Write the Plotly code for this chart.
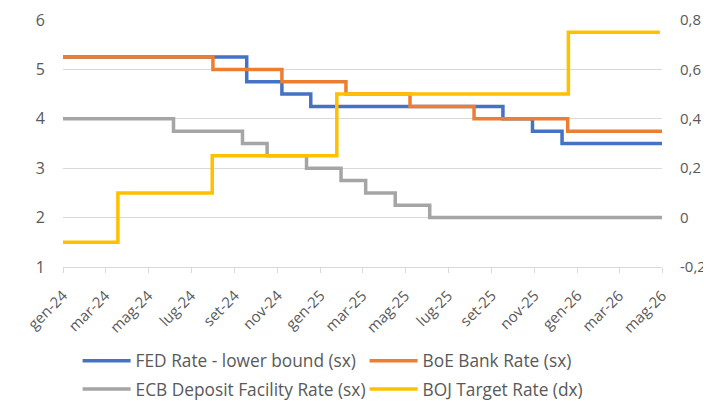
import plotly.graph_objects as go

# ---- data ----
fed_dates = ["2024-01-01", "2024-09-18", "2024-11-07", "2024-12-18", "2025-09-17", "2025-10-29", "2025-12-10", "2026-05-03"]
fed_values = [5.25, 4.75, 4.5, 4.25, 4.0, 3.75, 3.5, 3.5]

boe_dates = ["2024-01-01", "2024-08-01", "2024-11-07", "2025-02-06", "2025-05-08", "2025-08-07", "2025-12-18", "2026-05-02"]
boe_values = [5.25, 5.0, 4.75, 4.5, 4.25, 4.0, 3.75, 3.75]

ecb_dates = ["2024-01-01", "2024-06-06", "2024-09-12", "2024-10-17", "2024-12-12", "2025-01-30", "2025-03-06", "2025-04-17", "2025-06-05", "2026-05-02"]
ecb_values = [4.0, 3.75, 3.5, 3.25, 3.0, 2.75, 2.5, 2.25, 2.0, 2.0]

boj_dates = ["2024-01-01", "2024-03-19", "2024-07-31", "2025-01-24", "2025-12-19", "2026-04-28"]
boj_values = [-0.1, 0.1, 0.25, 0.5, 0.75, 0.75]

x_tick_dates = ["2024-01-01", "2024-03-01", "2024-05-01", "2024-07-01", "2024-09-01", "2024-11-01",
                "2025-01-01", "2025-03-01", "2025-05-01", "2025-07-01", "2025-09-01", "2025-11-01",
                "2026-01-01", "2026-03-01", "2026-05-01"]
x_tick_labels = ["gen-24", "mar-24", "mag-24", "lug-24", "set-24", "nov-24",
                 "gen-25", "mar-25", "mag-25", "lug-25", "set-25", "nov-25",
                 "gen-26", "mar-26", "mag-26"]
left_ticks = [1, 2, 3, 4, 5, 6]
right_ticks = [-0.2, 0, 0.2, 0.4, 0.6, 0.8]
right_tick_labels = ["-0,2", "0", "0,2", "0,4", "0,6", "0,8"]

FONT = "Open Sans"
TXT = "#595959"
GRID = "#D9D9D9"

fig = go.Figure()
fig.add_trace(go.Scatter(x=fed_dates, y=fed_values, name="FED Rate - lower bound (sx)",
                         mode="lines", line=dict(color="#4472C4", width=3.5, shape="hv"), legend="legend"))
fig.add_trace(go.Scatter(x=boe_dates, y=boe_values, name="BoE Bank Rate (sx)",
                         mode="lines", line=dict(color="#ED7D31", width=3.5, shape="hv"), legend="legend"))
fig.add_trace(go.Scatter(x=ecb_dates, y=ecb_values, name="ECB Deposit Facility Rate (sx)",
                         mode="lines", line=dict(color="#A5A5A5", width=3.5, shape="hv"), legend="legend2"))
fig.add_trace(go.Scatter(x=boj_dates, y=boj_values, name="BOJ Target Rate (dx)", yaxis="y2",
                         mode="lines", line=dict(color="#FFC000", width=3.5, shape="hv"), legend="legend2"))

# figure is 703x393 because the page body adds an 8px offset
legend_common = dict(orientation="h", xanchor="left", yanchor="middle", x=0.099,
                     xref="container", yref="container",
                     font=dict(family=FONT, size=17.3, color=TXT), itemwidth=48,
                     entrywidth=224, entrywidthmode="pixels", bgcolor="rgba(0,0,0,0)",
                     tracegroupgap=0)

fig.update_layout(
    width=703, height=393,
    margin=dict(l=55, r=49, t=12, b=134, autoexpand=False),
    paper_bgcolor="white", plot_bgcolor="white",
    font=dict(family=FONT, color=TXT),
    xaxis=dict(type="date", range=["2024-01-01", "2026-05-01"],
               tickvals=x_tick_dates, ticktext=x_tick_labels, tickangle=-45,
               tickfont=dict(family=FONT, size=15, color=TXT),
               showgrid=False, showline=True, linecolor=GRID, linewidth=1,
               ticks="outside", ticklen=5, tickcolor=GRID, zeroline=False,
               automargin=False, ticklabelstandoff=8),
    yaxis=dict(range=[1, 6], tickvals=left_ticks, showgrid=True, gridcolor=GRID, gridwidth=1,
               zeroline=False, tickfont=dict(family=FONT, size=16, color=TXT),
               ticks="", ticklabelstandoff=17, automargin=False),
    yaxis2=dict(range=[-0.2, 0.8], overlaying="y", side="right", tickvals=right_ticks,
                ticktext=right_tick_labels, showgrid=False, zeroline=False,
                tickfont=dict(family=FONT, size=15, color=TXT), ticks="", ticklabelstandoff=17,
                automargin=False),
    legend=dict(**legend_common, y=0.102),
    legend2=dict(**legend_common, y=0.03),
    showlegend=True,
)

fig.write_html("out.html")
